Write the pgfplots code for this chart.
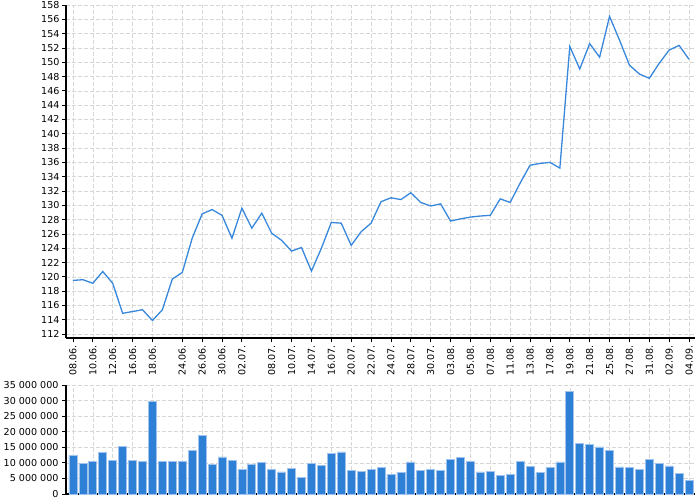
\documentclass[border=0pt]{standalone}
\usepackage{fontspec}
\setmainfont{DejaVu Sans}
\usepackage{pgfplots}
\usepackage{pgfplotstable}
\pgfplotsset{compat=1.18}

\definecolor{lineblue}{RGB}{55,135,220}
\definecolor{barblue}{RGB}{46,128,215}
\definecolor{baredge}{RGB}{160,196,238}
\definecolor{gridgray}{RGB}{215,215,215}

% day index, close, volume
\pgfplotstableread{
i  price   vol
0  119.5   12400000
1  119.6   9700000
2  119.1   10400000
3  120.75  13300000
4  119.1   10900000
5  114.9   15400000
6  115.15  10700000
7  115.4   10500000
8  113.9   29600000
9  115.4   10500000
10 119.7   10500000
11 120.6   10500000
12 125.4   14000000
13 128.8   18900000
14 129.4   9600000
15 128.6   11900000
16 125.4   10800000
17 129.6   7900000
18 126.8   9500000
19 128.9   10200000
20 126.1   7900000
21 125.1   7100000
22 123.6   8300000
23 124.1   5350000
24 120.8   9950000
25 124.0   9100000
26 127.6   13100000
27 127.5   13500000
28 124.4   7700000
29 126.3   7300000
30 127.5   7800000
31 130.5   8600000
32 131.05  6200000
33 130.8   7000000
34 131.75  10300000
35 130.4   7600000
36 129.9   7900000
37 130.2   7700000
38 127.8   11100000
39 128.1   11800000
40 128.35  10500000
41 128.5   7100000
42 128.6   7300000
43 130.9   6100000
44 130.4   6400000
45 133.1   10500000
46 135.6   8900000
47 135.85  6800000
48 136.0   8450000
49 135.2   10300000
50 152.2   32900000
51 149.05  16200000
52 152.6   15900000
53 150.7   15100000
54 156.4   14000000
55 153.1   8700000
56 149.6   8600000
57 148.35  8000000
58 147.75  11100000
59 149.85  9950000
60 151.7   9000000
61 152.35  6500000
62 150.4   4400000
}\quotes

\pgfplotsset{
  common/.style={
    scale only axis,
    width=629bp,
    xmin=-0.7, xmax=62.6,
    axis x line*=bottom,
    axis y line*=left,
    axis line style={black, line width=1.1bp},
    tick align=outside,
    major tick length=4bp,
    tick style={black, line width=0.8bp},
    grid=major,
    major grid style={gridgray, dash pattern=on 4bp off 2bp, line width=0.6bp},
    xtick={0,2,4,6,8,11,13,15,17,20,22,24,26,28,30,32,34,36,38,40,42,44,46,48,50,52,54,56,58,60,62},
    tick label style={font=\fontsize{9.6}{10}\selectfont},
    /pgf/number format/assume math mode=true,
    scaled y ticks=false,
    clip=false,
  },
}

\begin{document}
\begin{tikzpicture}
\path[use as bounding box] (0,0) rectangle (700bp,500bp);

\begin{axis}[common,
  at={(66bp,162bp)}, anchor=south west,
  height=333bp,
  ymin=111.45, ymax=158,
  ytick={112,114,...,158},
  yticklabel style={xshift=1bp},
  xticklabels={08.06.,10.06.,12.06.,16.06.,18.06.,24.06.,26.06.,30.06.,02.07.,08.07.,10.07.,14.07.,16.07.,20.07.,22.07.,24.07.,28.07.,30.07.,03.08.,05.08.,07.08.,11.08.,13.08.,17.08.,19.08.,21.08.,25.08.,27.08.,31.08.,02.09.,04.09.},
  xticklabel style={rotate=90, anchor=east, xshift=0bp},
]
\addplot[lineblue, line width=1.3bp] table[x=i, y=price] {\quotes};
\end{axis}

\begin{axis}[common,
  at={(66bp,6bp)}, anchor=south west,
  height=109bp,
  ymin=0, ymax=35000000,
  ytick={0,5000000,10000000,15000000,20000000,25000000,30000000,35000000},
  yticklabels={0,5 000 000,10 000 000,15 000 000,20 000 000,25 000 000,30 000 000,35 000 000},
  xmajorticks=false,
]
\addplot[ybar, bar width=8bp, fill=barblue, draw=baredge, line width=0.7bp]
  table[x=i, y=vol] {\quotes};
\end{axis}
\end{tikzpicture}
\end{document}
